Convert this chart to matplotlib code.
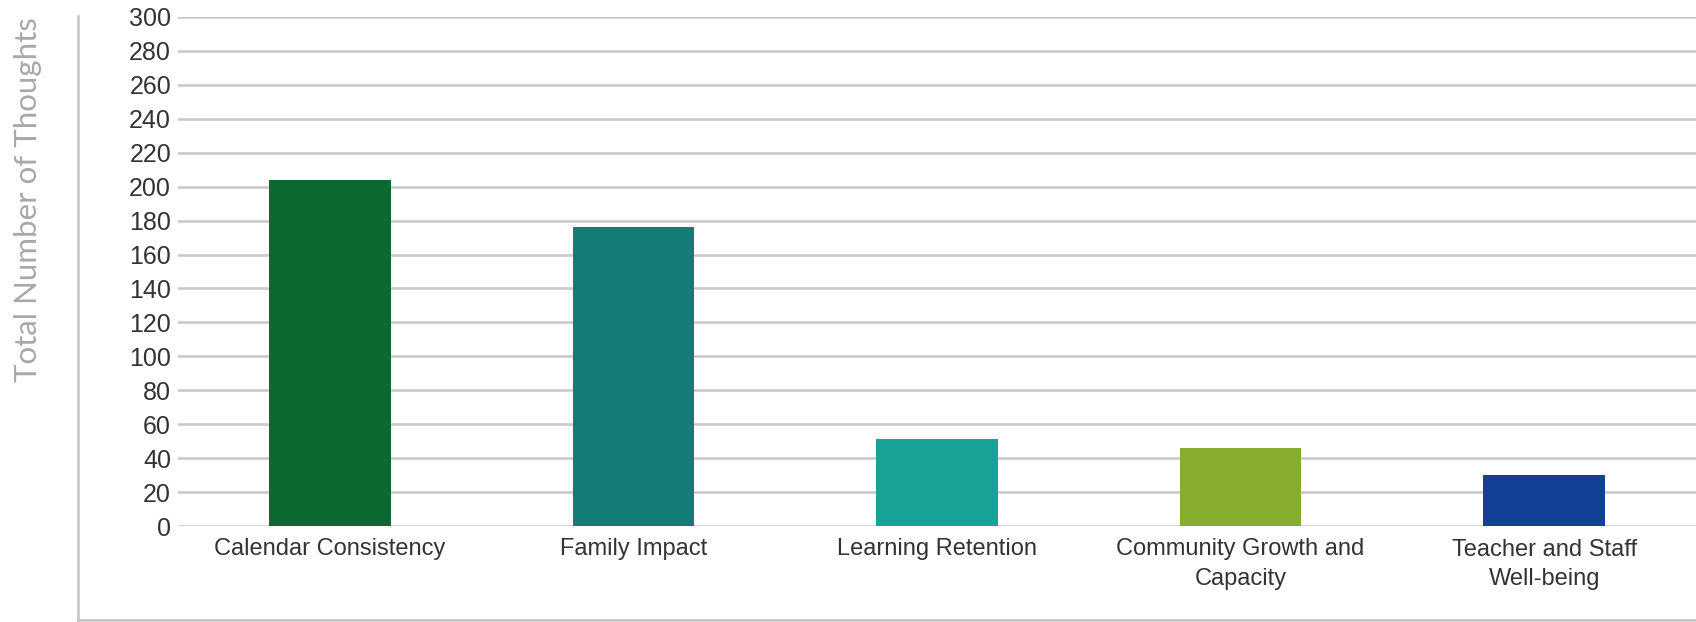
import matplotlib
matplotlib.use("Agg")
import matplotlib.pyplot as plt
from matplotlib.lines import Line2D

categories = ["Calendar Consistency", "Family Impact", "Learning Retention",
              "Community Growth and\nCapacity", "Teacher and Staff\nWell-being"]
values = [204, 176, 51, 46, 30]
colors = ["#0b6830", "#137d74", "#18a398", "#86ad2e", "#133f94"]
yticks = list(range(0, 301, 20))

W, H = 1696, 622
fig = plt.figure(figsize=(W / 100, H / 100), dpi=100)
ax = fig.add_axes([178 / W, 1 - 526 / H, 1 - 178 / W, (526 - 17) / H])

x = list(range(len(categories)))
ax.bar(x, values, width=0.4, color=colors, zorder=3)
ax.set_xlim(-0.5, len(categories) - 0.5)
ax.set_ylim(0, 300)
ax.set_yticks(yticks)
ax.set_yticklabels([str(t) for t in yticks], fontsize=18, color="#333333",
                   family="Liberation Sans")
ax.set_xticks(x)
ax.set_xticklabels(categories, fontsize=17, color="#333333",
                   family="Liberation Sans", linespacing=1.45, va="top")
ax.tick_params(axis="both", length=0)
ax.tick_params(axis="y", pad=5)
ax.tick_params(axis="x", pad=9)
ax.grid(axis="y", color="#c8c8c8", linewidth=1.8, zorder=0)
ax.set_axisbelow(True)
for s in ax.spines.values():
    s.set_visible(False)

fig.text(28 / W, 1 - 200 / H, "Total Number of Thoughts", rotation=90,
         ha="center", va="center", fontsize=22.5, color="#a8a8a8",
         family="Lato")

# frame lines
fig.add_artist(Line2D([78 / W, 78 / W], [1 - 16 / H, 0], color="#c4c4c4",
                      linewidth=1.8, transform=fig.transFigure))
fig.add_artist(Line2D([78 / W, 1], [1 - 620 / H, 1 - 620 / H], color="#c4c4c4",
                      linewidth=1.8, transform=fig.transFigure))

fig.savefig("out.png", dpi=100, facecolor="white")
